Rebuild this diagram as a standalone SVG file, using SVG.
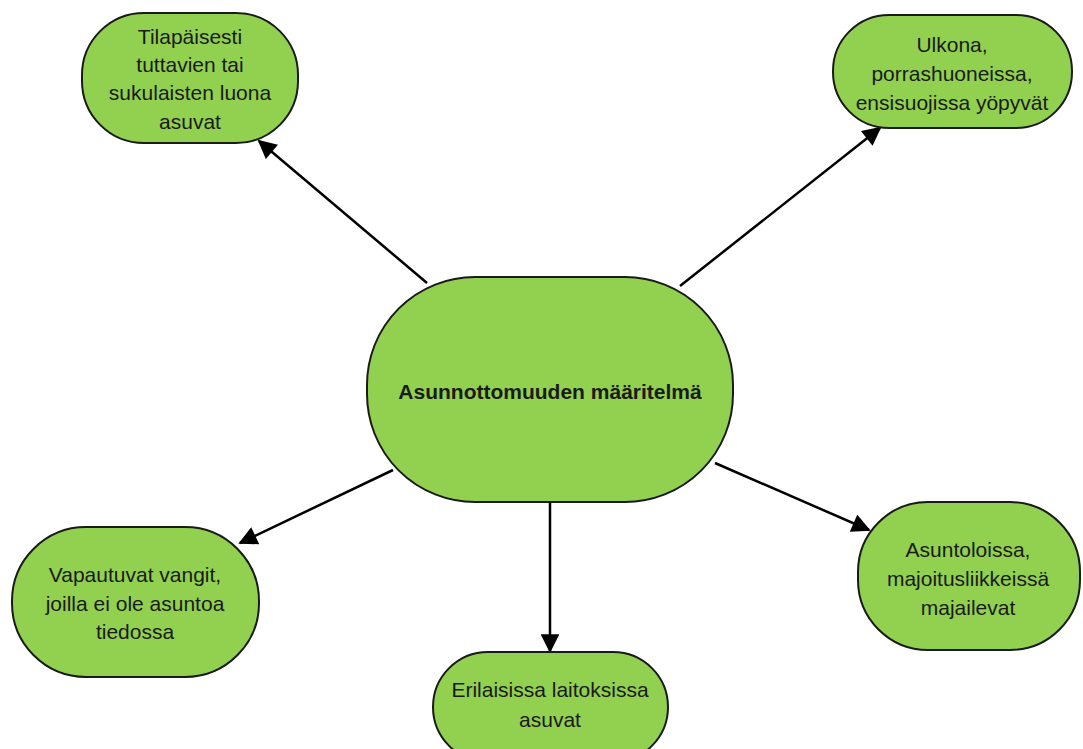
<svg xmlns="http://www.w3.org/2000/svg" width="1083" height="749" viewBox="0 0 1083 749">
<defs>
<style>
.node{fill:#92D050;stroke:#1a1a1a;stroke-width:2}
.t{font-family:"Liberation Sans",Arial,sans-serif;font-size:21px;fill:#1a1a1a;text-anchor:middle}
.b{font-weight:bold;font-size:21px}
.c{stroke:#000;stroke-width:2.5;fill:none;marker-end:url(#ah)}
</style>
<marker id="ah" viewBox="0 0 10 10" refX="9" refY="5" markerWidth="8" markerHeight="7.5" markerUnits="strokeWidth" orient="auto">
<path d="M0,0 L10,5 L0,10 Z" fill="#000"/>
</marker>
</defs>
<rect width="1083" height="749" fill="#fff"/>
<g id="connectors">
<line class="c" x1="427" y1="283" x2="259" y2="141"/>
<line class="c" x1="680" y1="286" x2="880" y2="128"/>
<line class="c" x1="393" y1="470" x2="240" y2="543"/>
<line class="c" x1="550" y1="502" x2="550" y2="651"/>
<line class="c" x1="715" y1="463" x2="869" y2="530"/>
</g>
<g id="center">
<rect class="node" x="367" y="277" width="366" height="225" rx="108" ry="108"/>
<text class="t b" x="550" y="399">Asunnottomuuden määritelmä</text>
</g>
<g id="n-tilapaisesti">
<rect class="node" x="82" y="13" width="216" height="130" rx="62" ry="62"/>
<text class="t" x="190" y="44">Tilapäisesti</text>
<text class="t" x="190" y="72">tuttavien tai</text>
<text class="t" x="190" y="100">sukulaisten luona</text>
<text class="t" x="190" y="129">asuvat</text>
</g>
<g id="n-ulkona">
<rect class="node" x="833" y="15" width="239" height="113" rx="56" ry="56"/>
<text class="t" x="952" y="52">Ulkona,</text>
<text class="t" x="952" y="81">porrashuoneissa,</text>
<text class="t" x="952" y="110">ensisuojissa yöpyvät</text>
</g>
<g id="n-vangit">
<rect class="node" x="12" y="527" width="247" height="150" rx="74" ry="74"/>
<text class="t" x="135" y="582">Vapautuvat vangit,</text>
<text class="t" x="135" y="611">joilla ei ole asuntoa</text>
<text class="t" x="135" y="639">tiedossa</text>
</g>
<g id="n-laitokset">
<rect class="node" x="433" y="652" width="235" height="110" rx="55" ry="55"/>
<text class="t" x="550" y="697">Erilaisissa laitoksissa</text>
<text class="t" x="550" y="727">asuvat</text>
</g>
<g id="n-asuntolat">
<rect class="node" x="858" y="502" width="222" height="148" rx="70" ry="70"/>
<text class="t" x="968" y="557">Asuntoloissa,</text>
<text class="t" x="968" y="586">majoitusliikkeissä</text>
<text class="t" x="968" y="615">majailevat</text>
</g>
</svg>
